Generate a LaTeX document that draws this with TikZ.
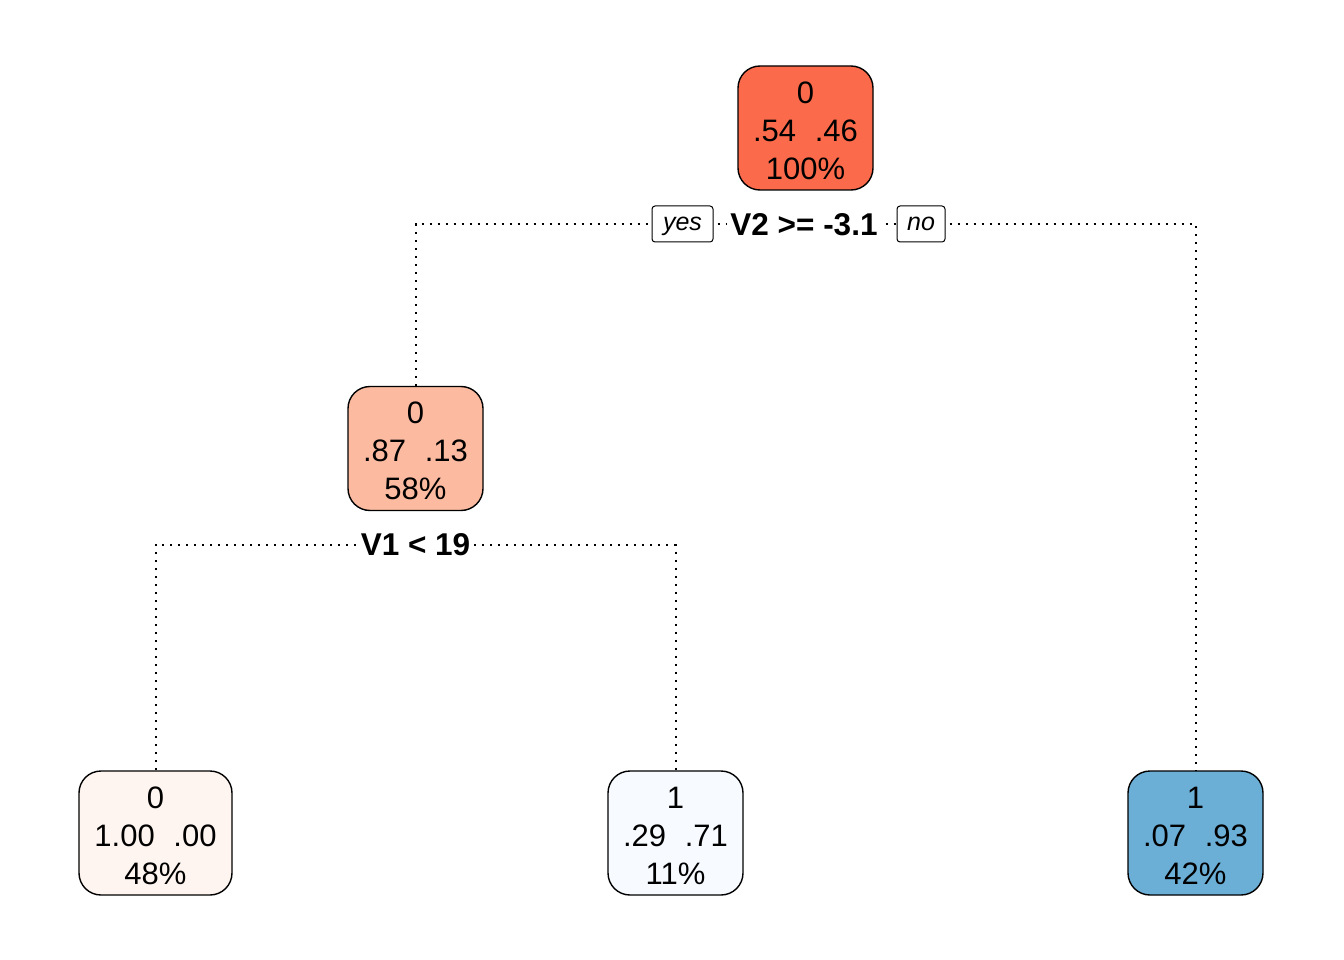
\documentclass[tikz,border=0pt]{standalone}
\usepackage{fontspec}
\setmainfont{Liberation Sans}
\usetikzlibrary{backgrounds}
\definecolor{cRoot}{HTML}{FB6A4A}
\definecolor{cMid}{HTML}{FCBBA1}
\definecolor{cLA}{HTML}{FFF5F0}
\definecolor{cLB}{HTML}{F7FBFF}
\definecolor{cLC}{HTML}{6BAED6}
\begin{document}
\begin{tikzpicture}[x=1pt,y=-1pt,
  treenode/.style={draw=black, line width=1.4pt, rounded corners=22pt, minimum width=135pt, minimum height=124pt, inner sep=0pt},
  nodetext/.style={align=center, inner sep=0pt, yshift=-2.5pt, font=\fontsize{31}{38}\selectfont},
  splitlab/.style={fill=white, inner sep=3pt, font=\fontsize{31.5}{34}\selectfont\bfseries},
  yn/.style={draw=black, fill=white, line width=1pt, rounded corners=3pt, minimum height=36pt, inner sep=4pt, text height=18pt, text depth=5pt, font=\fontsize{25}{28}\selectfont\itshape},
  edge/.style={line width=2pt, dash pattern=on 2pt off 6pt}]
\useasboundingbox (0,0) rectangle (1344,960);
\node[treenode, fill=cRoot] (root) at (805.5,128) {};
\node[nodetext] (root-t) at (root) {0\\.54\hspace{0.6em}.46\\100\%};
\node[treenode, fill=cMid] (mid) at (415.5,448.5) {};
\node[nodetext] (mid-t) at (mid) {0\\.87\hspace{0.6em}.13\\58\%};
\node[treenode, fill=cLA, minimum width=153pt] (la) at (155.5,833) {};
\node[nodetext] (la-t) at (la) {0\\1.00\hspace{0.6em}.00\\48\%};
\node[treenode, fill=cLB] (lb) at (675.5,833) {};
\node[nodetext] (lb-t) at (lb) {1\\.29\hspace{0.6em}.71\\11\%};
\node[treenode, fill=cLC] (lc) at (1195.5,833) {};
\node[nodetext] (lc-t) at (lc) {1\\.07\hspace{0.6em}.93\\42\%};
\node[splitlab] (s1) at (804,225) {V2 >= -3.1};
\node[yn, minimum width=61pt] (yes) at (682.5,224) {yes};
\node[yn, minimum width=48pt] (no) at (921,224) {no};
\node[splitlab] (s2) at (415.5,545) {V1 < 19};
\coordinate (h1) at (0,224);
\coordinate (h2) at (0,545);
\begin{pgfonlayer}{background}
\draw[edge] (mid.north) -- (mid.north |- h1) -- (lc.north |- h1) -- (lc.north);
\draw[edge] (la.north) -- (la.north |- h2) -- (lb.north |- h2) -- (lb.north);
\end{pgfonlayer}
\end{tikzpicture}
\end{document}
